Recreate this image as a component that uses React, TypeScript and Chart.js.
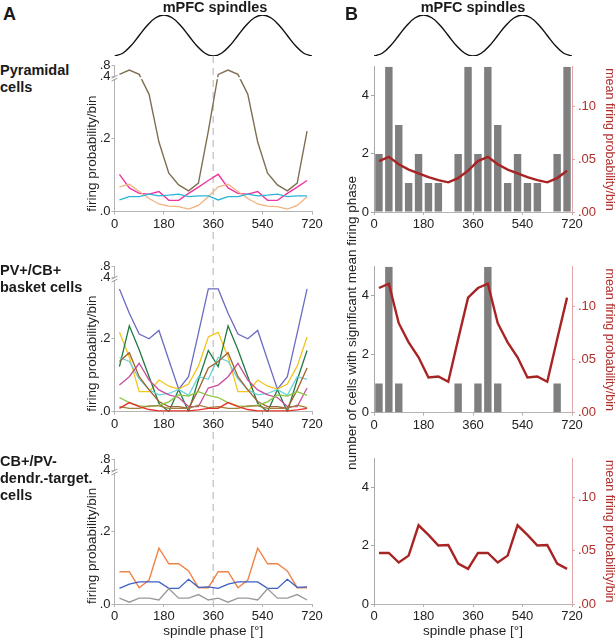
import React, { useEffect, useRef } from 'react';
import { Chart, registerables, LinearScale } from 'chart.js';

Chart.register(...registerables);

const FONT = '"Liberation Sans", Arial, Helvetica, sans-serif';
Chart.defaults.font.family = FONT;

// ---------------- data ----------------
const PHASE = [18, 54, 90, 126, 162, 198, 234, 270, 306, 342, 378, 414, 450, 486, 522, 558, 594, 630, 666, 702];
const PHASE_TICKS = [0, 180, 360, 540, 720];
const PROB_TICKS = [0, 0.2, 0.4, 0.8];
const COUNT_TICKS = [0, 2, 4];
const MEAN_TICKS = [0, 0.05, 0.1];

// schematic spindle cycle shown above the panels
const SINE_PHASE = [0, 30, 60, 90, 120, 150, 180, 210, 240, 270, 300, 330, 360, 390, 420, 450, 480, 510, 540, 570, 600, 630, 660, 690, 720];
const SINE_WAVE = [-1, -0.866, -0.5, 0, 0.5, 0.866, 1, 0.866, 0.5, 0, -0.5, -0.866, -1, -0.866, -0.5, 0, 0.5, 0.866, 1, 0.866, 0.5, 0, -0.5, -0.866, -1];

// A – pyramidal cells (firing probability / bin)
const pyrBrown = [0.48, 0.63, 0.48, 0.32, 0.19, 0.105, 0.073, 0.057, 0.078, 0.22, 0.48, 0.63, 0.48, 0.32, 0.19, 0.105, 0.073, 0.057, 0.078, 0.22];
const pyrPink = [0.102, 0.065, 0.05, 0.048, 0.055, 0.031, 0.031, 0.05, 0.067, 0.085, 0.102, 0.065, 0.05, 0.048, 0.055, 0.031, 0.031, 0.05, 0.067, 0.085];
const pyrTan = [0.068, 0.075, 0.055, 0.036, 0.021, 0.015, 0.014, 0.007, 0.017, 0.041, 0.068, 0.075, 0.055, 0.036, 0.021, 0.015, 0.014, 0.007, 0.017, 0.041];
const pyrCyan = [0.032, 0.041, 0.041, 0.048, 0.043, 0.045, 0.048, 0.041, 0.043, 0.043, 0.032, 0.041, 0.041, 0.048, 0.043, 0.045, 0.048, 0.041, 0.043, 0.043];

// A – PV+/CB+ basket cells
const bskPurple = [0.337, 0.27, 0.213, 0.2, 0.223, 0.142, 0.062, 0.096, 0.216, 0.337, 0.337, 0.27, 0.213, 0.2, 0.223, 0.142, 0.062, 0.096, 0.216, 0.337];
const bskYellow = [0.218, 0.15, 0.055, 0.055, 0.087, 0.07, 0.062, 0.076, 0.125, 0.205, 0.218, 0.15, 0.055, 0.055, 0.087, 0.07, 0.062, 0.076, 0.125, 0.205];
const bskDarkGreen = [0.124, 0.236, 0.17, 0.096, 0.023, 0.0, 0.061, 0.0, 0.087, 0.168, 0.124, 0.236, 0.17, 0.096, 0.023, 0.0, 0.061, 0.0, 0.087, 0.168];
const bskCyan = [0.149, 0.138, 0.09, 0.06, 0.046, 0.05, 0.061, 0.045, 0.096, 0.089, 0.149, 0.138, 0.09, 0.06, 0.046, 0.05, 0.061, 0.045, 0.096, 0.089];
const bskMagenta = [0.073, 0.096, 0.133, 0.087, 0.06, 0.046, 0.039, 0.014, 0.014, 0.065, 0.073, 0.096, 0.133, 0.087, 0.06, 0.046, 0.039, 0.014, 0.014, 0.065];
const bskBrown = [0.138, 0.162, 0.096, 0.06, 0.028, 0.014, 0.014, 0.009, 0.06, 0.12, 0.138, 0.162, 0.096, 0.06, 0.028, 0.014, 0.014, 0.009, 0.06, 0.12];
const bskLightGreen = [0.039, 0.025, 0.016, 0.014, 0.018, 0.027, 0.046, 0.043, 0.055, 0.045, 0.039, 0.025, 0.016, 0.014, 0.018, 0.027, 0.046, 0.043, 0.055, 0.045];
const bskOlive = [0.014, 0.009, 0.009, 0.016, 0.016, 0.009, 0.009, 0.009, 0.018, 0.011, 0.014, 0.009, 0.009, 0.016, 0.016, 0.009, 0.009, 0.009, 0.018, 0.011];
const bskRed = [0.009, 0.025, 0.014, 0.006, 0.002, 0.002, 0.002, 0.002, 0.005, 0.009, 0.009, 0.025, 0.014, 0.006, 0.002, 0.002, 0.002, 0.002, 0.005, 0.009];

// A – CB+/PV- dendrite-targeting cells
const dndOrange = [0.089, 0.089, 0.045, 0.066, 0.154, 0.111, 0.111, 0.091, 0.045, 0.045, 0.089, 0.089, 0.045, 0.066, 0.154, 0.111, 0.111, 0.091, 0.045, 0.045];
const dndBlue = [0.043, 0.055, 0.061, 0.061, 0.061, 0.043, 0.043, 0.068, 0.046, 0.047, 0.043, 0.055, 0.061, 0.061, 0.061, 0.043, 0.043, 0.068, 0.046, 0.047];
const dndGray = [0.016, 0.005, 0.016, 0.016, 0.011, 0.042, 0.016, 0.016, 0.026, 0.011, 0.016, 0.005, 0.016, 0.016, 0.011, 0.042, 0.016, 0.016, 0.026, 0.011];

// B – number of cells with significant mean firing phase, and mean firing probability / bin
const cellsPyr = [2, 5, 3, 1, 2, 1, 1, 0, 2, 5, 2, 5, 3, 1, 2, 1, 1, 0, 2, 5];
const meanPyr = [0.048, 0.052, 0.045, 0.04, 0.0365, 0.033, 0.03, 0.028, 0.032, 0.039, 0.048, 0.052, 0.045, 0.04, 0.0365, 0.033, 0.03, 0.028, 0.032, 0.039];
const cellsBasket = [1, 5, 1, 0, 0, 0, 0, 0, 1, 0, 1, 5, 1, 0, 0, 0, 0, 0, 1, 0];
const meanBasket = [0.117, 0.121, 0.084, 0.066, 0.052, 0.033, 0.034, 0.029, 0.069, 0.108, 0.117, 0.121, 0.084, 0.066, 0.052, 0.033, 0.034, 0.029, 0.069, 0.108];
const cellsDendr = [0, 0, 0, 0, 0, 0, 0, 0, 0, 0, 0, 0, 0, 0, 0, 0, 0, 0, 0, 0];
const meanDendr = [0.048, 0.048, 0.039, 0.0455, 0.074, 0.065, 0.055, 0.0555, 0.038, 0.033, 0.048, 0.048, 0.039, 0.0455, 0.074, 0.065, 0.055, 0.0555, 0.038, 0.033];

// ---------------- styles ----------------
const TICK_COLOR = '#222';
const AXIS_COLOR = '#b4b4b4';
const RED_LINE = '#a82424';
const RED_TEXT = '#b0302c';
const RED_AXIS = '#e2a4a4';
const BAR_COLOR = '#7f7f7f';

// broken y axis: 0..0.36 below the break, 0.4..0.8 compressed above it
const BRK = { low: 0.36, high: 0.4, max: 0.8, dLow: 0.9, dHigh: 0.92 };

class BrokenLinearScale extends LinearScale {
  static id = 'brokenLinear';
  static defaults = LinearScale.defaults;
  valueToDecimal(v: number) {
    if (v <= BRK.low) return (v / BRK.low) * BRK.dLow;
    if (v <= BRK.high) return BRK.dLow + ((v - BRK.low) / (BRK.high - BRK.low)) * (BRK.dHigh - BRK.dLow);
    return BRK.dHigh + ((v - BRK.high) / (BRK.max - BRK.high)) * (1 - BRK.dHigh);
  }
  getPixelForValue(value: any) {
    if (value === null || value === undefined || isNaN(value)) return NaN;
    return (this as any).getPixelForDecimal(this.valueToDecimal(value));
  }
  getValueForPixel(pixel: number) {
    const d = (this as any).getDecimalForPixel(pixel);
    if (d <= BRK.dLow) return (d / BRK.dLow) * BRK.low;
    if (d <= BRK.dHigh) return BRK.low + ((d - BRK.dLow) / (BRK.dHigh - BRK.dLow)) * (BRK.high - BRK.low);
    return BRK.high + ((d - BRK.dHigh) / (1 - BRK.dHigh)) * (BRK.max - BRK.high);
  }
}
Chart.register(BrokenLinearScale as any);

const phaseLinePlugin = {
  id: 'phaseLine',
  beforeDatasetsDraw(chart: any) {
    const x = chart.scales.x.getPixelForValue(360);
    const ctx = chart.ctx;
    ctx.save();
    ctx.strokeStyle = '#cbcbcb';
    ctx.lineWidth = 1.5;
    ctx.setLineDash([7, 5]);
    ctx.beginPath();
    ctx.moveTo(x, 0);
    ctx.lineTo(x, chart.chartArea.bottom);
    ctx.stroke();
    ctx.restore();
  },
};

const axisBreakPlugin = {
  id: 'axisBreak',
  afterDatasetsDraw(chart: any) {
    const s = chart.scales.y;
    const ca = chart.chartArea;
    const yLow = s.getPixelForValue(BRK.low);
    const yHigh = s.getPixelForValue(BRK.high);
    const ctx = chart.ctx;
    ctx.save();
    ctx.fillStyle = '#fff';
    ctx.fillRect(ca.left - 3, yHigh + 0.5, ca.right - ca.left + 3, yLow - yHigh - 1);
    ctx.strokeStyle = '#9a9a9a';
    ctx.lineWidth = 1;
    for (const y of [yLow, yHigh]) {
      ctx.beginPath();
      ctx.moveTo(ca.left - 3, y + 1.5);
      ctx.lineTo(ca.left + 3, y - 1.5);
      ctx.stroke();
    }
    ctx.restore();
  },
};

const tickFont = { size: 13, family: FONT };
const setTicks = (values: number[]) => (scale: any) => {
  scale.ticks = values.map((value) => ({ value }));
};
const fixWidth = (w: number) => (s: any) => {
  s.width = w;
};
const fixHeight = (h: number) => (s: any) => {
  s.height = h;
};
const fmtProb = (v: any) => '.' + Math.round(Number(v) * 10);
const fmtMean = (v: any) => '.' + String(Math.round(Number(v) * 100)).padStart(2, '0');

const tickGrid = (color: string) => ({
  display: true,
  drawOnChartArea: false,
  drawTicks: true,
  tickLength: 3,
  color,
  offset: false,
});

function phaseAxis(height: number, withTitle: boolean) {
  return {
    type: 'linear',
    min: 0,
    max: 720,
    offset: false,
    afterBuildTicks: setTicks(PHASE_TICKS),
    afterFit: fixHeight(height),
    grid: tickGrid(AXIS_COLOR),
    border: { display: true, color: AXIS_COLOR, width: 1 },
    ticks: { font: tickFont, color: TICK_COLOR, padding: 2, maxRotation: 0, autoSkip: false, callback: (v: any) => String(v) },
    title: { display: withTitle, text: 'spindle phase [°]', font: { size: 13.5, family: FONT }, color: TICK_COLOR, padding: 0 },
  };
}

function probAxis() {
  return {
    type: 'brokenLinear',
    position: 'left',
    min: 0,
    max: 0.8,
    afterBuildTicks: setTicks(PROB_TICKS),
    afterFit: fixWidth(34.5),
    grid: tickGrid(AXIS_COLOR),
    border: { display: true, color: AXIS_COLOR, width: 1 },
    ticks: { font: tickFont, color: TICK_COLOR, padding: 1, autoSkip: false, callback: fmtProb },
    title: {
      display: true,
      text: 'firing probability/bin',
      align: 'start',
      font: { size: 13.5, family: FONT },
      color: TICK_COLOR,
      padding: { top: 3.9, bottom: 0 },
    },
  };
}

function lineDataset(values: number[], color: string, width = 1.3) {
  return {
    type: 'line',
    data: PHASE.map((x, i) => ({ x, y: values[i] })),
    borderColor: color,
    backgroundColor: color,
    borderWidth: width,
    pointRadius: 0,
    tension: 0,
    fill: false,
  };
}

const baseOptions = (padding: any) => ({
  responsive: false,
  animation: false,
  events: [],
  layout: { padding },
  plugins: { legend: { display: false }, tooltip: { enabled: false } },
});

function sineConfig(padLeft: number, padRight: number) {
  return () => ({
    type: 'line',
    data: {
      datasets: [
        {
          data: SINE_PHASE.map((x, i) => ({ x, y: SINE_WAVE[i] })),
          borderColor: '#111',
          borderWidth: 1.4,
          pointRadius: 0,
          tension: 0.4,
          fill: false,
        },
      ],
    },
    options: {
      ...baseOptions({ left: padLeft, right: padRight, top: 15, bottom: 4 }),
      scales: {
        x: { type: 'linear', min: 0, max: 720, display: false },
        y: { type: 'linear', min: -1, max: 1, display: false },
      },
    },
  });
}

function panelAConfig(series: [number[], string, number?][], padTop: number, xHeight: number, withTitle: boolean) {
  return () => ({
    type: 'line',
    data: { datasets: series.map(([v, c, w]) => lineDataset(v, c, w ?? 1.3)) },
    options: {
      ...baseOptions({ left: 0, right: 18, top: padTop, bottom: 0 }),
      scales: { x: phaseAxis(xHeight, withTitle), y: probAxis() },
    },
    plugins: [phaseLinePlugin, axisBreakPlugin],
  });
}

function panelBConfig(cells: number[], mean: number[], padTop: number, xHeight: number, withTitle: boolean) {
  return () => ({
    type: 'bar',
    data: {
      datasets: [
        {
          ...lineDataset(mean, RED_LINE, 2.4),
          yAxisID: 'y1',
          order: 0,
        },
        {
          type: 'bar',
          data: PHASE.map((x, i) => ({ x, y: cells[i] })),
          yAxisID: 'y',
          backgroundColor: BAR_COLOR,
          borderWidth: 0,
          categoryPercentage: 1,
          barPercentage: 0.75,
          order: 1,
        },
      ],
    },
    options: {
      ...baseOptions({ left: 0, right: 0, top: padTop, bottom: 0 }),
      scales: {
        x: phaseAxis(xHeight, withTitle),
        y: {
          type: 'linear',
          position: 'left',
          min: 0,
          max: 5,
          afterBuildTicks: setTicks(COUNT_TICKS),
          afterFit: fixWidth(44),
          grid: tickGrid('#a8a8a8'),
          border: { display: true, color: '#a8a8a8', width: 1 },
          ticks: { font: tickFont, color: TICK_COLOR, padding: 2, autoSkip: false, callback: (v: any) => String(v) },
        },
        y1: {
          type: 'linear',
          position: 'right',
          min: 0,
          max: 0.137,
          afterBuildTicks: setTicks(MEAN_TICKS),
          afterFit: fixWidth(44),
          grid: tickGrid(RED_AXIS),
          border: { display: true, color: RED_AXIS, width: 1 },
          ticks: { font: tickFont, color: RED_TEXT, padding: 3, autoSkip: false, callback: fmtMean },
          title: {
            display: true,
            text: 'mean firing probability/bin',
            color: RED_TEXT,
            font: { size: 12.5, family: FONT, lineHeight: 1 },
            padding: 0,
          },
        },
      },
    },
  });
}

const SPECS = [
  { left: 80, top: 0, width: 250, height: 60, config: sineConfig(34.5, 18) },
  { left: 330, top: 0, width: 286, height: 60, config: sineConfig(44, 44) },
  {
    left: 80, top: 56, width: 250, height: 176,
    config: panelAConfig([[pyrCyan, '#2db4d8'], [pyrTan, '#f2b27c'], [pyrPink, '#f0379e', 1.4], [pyrBrown, '#7f6f52', 1.4]], 9, 20.3, false),
  },
  {
    left: 80, top: 232, width: 250, height: 200,
    config: panelAConfig(
      [
        [bskRed, '#e8302a'],
        [bskOlive, '#a08040'],
        [bskLightGreen, '#8cc63f'],
        [bskBrown, '#a3622e'],
        [bskMagenta, '#c8509c'],
        [bskCyan, '#6ad2da'],
        [bskDarkGreen, '#1f7a40'],
        [bskYellow, '#f5c41a'],
        [bskPurple, '#6b6bc4'],
      ],
      34, 20.3, false,
    ),
  },
  {
    left: 80, top: 432, width: 250, height: 207,
    config: panelAConfig([[dndGray, '#999999'], [dndBlue, '#3d5fc6'], [dndOrange, '#f08448', 1.4]], 27, 35, true),
  },
  { left: 330, top: 56, width: 286, height: 176, config: panelBConfig(cellsPyr, meanPyr, 10.5, 20, false) },
  { left: 330, top: 232, width: 286, height: 200, config: panelBConfig(cellsBasket, meanBasket, 34.7, 19.3, false) },
  { left: 330, top: 432, width: 286, height: 207, config: panelBConfig(cellsDendr, meanDendr, 26.3, 35, true) },
];

const boldText = (size: number, lh: number): React.CSSProperties => ({
  position: 'absolute',
  fontSize: size,
  lineHeight: `${lh}px`,
  fontWeight: 700,
  whiteSpace: 'nowrap',
  color: '#1a1a1a',
});

export default function App() {
  const refs = useRef<(HTMLCanvasElement | null)[]>([]);

  useEffect(() => {
    const charts = SPECS.map((s, i) => new Chart(refs.current[i] as HTMLCanvasElement, s.config() as any));
    return () => charts.forEach((c) => c.destroy());
  }, []);

  return (
    <div
      style={{
        position: 'fixed',
        left: 0,
        top: 0,
        width: 616,
        height: 639,
        overflow: 'hidden',
        background: '#fff',
        fontFamily: FONT,
        color: '#1a1a1a',
      }}
    >
      {SPECS.map((s, i) => (
        <canvas
          key={i}
          ref={(el) => {
            refs.current[i] = el;
          }}
          width={s.width}
          height={s.height}
          style={{ position: 'absolute', left: s.left, top: s.top, width: s.width, height: s.height }}
        />
      ))}

      <div style={{ ...boldText(18, 18), left: 3, top: 4.7 }}>A</div>
      <div style={{ ...boldText(18, 18), left: 345, top: 4.7 }}>B</div>
      <div style={{ ...boldText(14.5, 14.5), left: 115, top: 0, width: 200, textAlign: 'center' }}>mPFC spindles</div>
      <div style={{ ...boldText(14.5, 14.5), left: 373, top: 0, width: 200, textAlign: 'center' }}>mPFC spindles</div>

      <div style={{ ...boldText(14.5, 17), left: 0, top: 61.5 }}>
        Pyramidal
        <br />
        cells
      </div>
      <div style={{ ...boldText(14.5, 17), left: 0, top: 261.5 }}>
        PV+/CB+
        <br />
        basket cells
      </div>
      <div style={{ ...boldText(14.5, 17), left: 0, top: 453 }}>
        CB+/PV-
        <br />
        dendr.-target.
        <br />
        cells
      </div>

      <div
        style={{
          position: 'absolute',
          left: 352 - 170,
          top: 322.5 - 8,
          width: 340,
          height: 16,
          lineHeight: '16px',
          fontSize: 13.5,
          textAlign: 'center',
          whiteSpace: 'nowrap',
          color: '#222',
          transform: 'rotate(-90deg)',
          transformOrigin: '50% 50%',
        }}
      >
        number of cells with significant mean firing phase
      </div>
    </div>
  );
}
